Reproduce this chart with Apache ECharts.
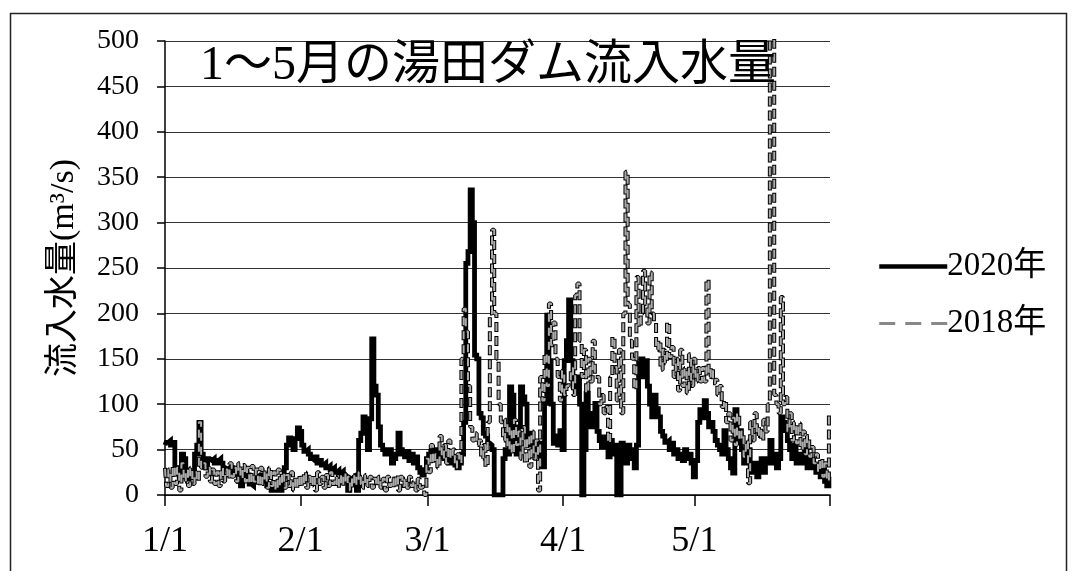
<!DOCTYPE html>
<html><head><meta charset="utf-8">
<script src="https://cdn.jsdelivr.net/npm/echarts@6/dist/echarts.min.js"></script>
<style>html,body{margin:0;padding:0;background:#fff;}#c{width:1077px;height:571px;}</style>
</head><body><div id="c"></div>
<script>
// half-day values (two per day, Jan 1 .. Jun 1)
const flow2020 = [
55,58, 60,55, 58,30, 25,20, 45,40, 22,18, 20,25, 45,55, 80,45, 35,30,
40,38, 40,35, 38,40, 35,30, 28,30, 25,30, 28,22, 15,10, 20,25, 22,12,
10,18, 20,15, 18,22, 15,10, 8,5, 5,8, 10,5, 20,30, 55,63, 60,50,
62,74, 70,55, 48,50, 45,40, 38,42, 35,38, 33,35, 30,32, 28,30, 25,27,
24,26, 22,20, 5,18, 20,22, 5,60, 68,86, 80,50, 84,172, 120,110, 75,55,
50,45, 45,50, 35,40, 45,68, 50,45, 42,48, 38,45, 35,42, 30,25, 22,28,
40,45, 48,42, 50,45, 42,48, 40,38, 35,42, 38,33, 30,35, 45,80, 255,268,
336,300, 154,150, 90,85, 68,65, 57,55, 50,0, 0,0, 0,40, 50,45, 119,110,
60,45, 75,119, 108,100, 60,68, 55,50, 45,57, 35,31, 101,198, 148,100, 57,65,
55,71, 50,148, 170,215, 148,120, 112,130, 100,0, 50,112, 90,75, 85,101, 70,60,
53,64, 55,42, 60,45, 55,0, 0,57, 50,35, 55,40, 50,30, 55,145, 150,130,
148,120, 100,86, 110,95, 86,70, 65,58, 60,50, 57,45, 50,40, 45,38, 50,40,
45,35, 20,38, 80,94, 85,104, 90,75, 80,70, 60,55, 50,45, 71,50, 40,30,
24,94, 60,71, 50,35, 40,50, 30,25, 35,20, 30,40, 25,35, 40,60, 35,45,
30,40, 86,80, 71,60, 50,40, 55,35, 45,40, 35,50, 30,35, 38,30, 25,30,
20,28, 15,10,
20
];
const flow2018 = [
30,10, 28,8, 32,12, 30,5, 35,15, 28,10, 30,12, 25,15, 80,30, 35,20,
30,15, 28,12, 25,10, 30,15, 28,18, 35,20, 30,15, 35,18, 33,15, 30,12,
32,15, 28,10, 30,12, 27,8, 30,10, 25,5, 28,10, 25,8, 22,10, 25,5,
20,8, 22,10, 25,8, 20,10, 22,5, 25,12, 20,8, 22,10, 25,12, 20,8,
22,10, 24,12, 20,5, 22,10, 25,12, 20,8, 22,10, 20,8, 18,10, 20,8,
18,5, 20,10, 18,8, 22,5, 20,10, 18,8, 20,10, 15,5, 18,8, 10,0,
40,25, 55,35, 45,30, 65,40, 55,35, 60,40, 50,30, 45,35, 150,205, 180,120,
75,60, 68,55, 60,40, 55,31, 80,200, 292,200, 150,100, 80,60, 83,50, 75,45,
83,55, 70,40, 75,35, 65,31, 70,40, 60,5, 130,104, 156,120, 211,165, 190,150,
130,104, 137,110, 120,125, 140,110, 220,233, 170,130, 160,112, 150,125, 170,130, 130,100,
110,90, 97,57, 130,174, 141,104, 160,90, 200,356, 210,170, 150,116, 240,185, 200,247,
210,189, 245,200, 190,160, 170,138, 160,145, 190,152, 163,130, 150,115, 160,120, 140,112,
155,120, 150,125, 140,125, 140,125, 237,130, 140,123, 127,110, 120,97, 104,80, 90,60,
85,55, 90,60, 70,42, 60,13, 80,60, 90,65, 75,60, 83,70, 100,620, 640,110,
100,90, 218,100, 108,70, 90,60, 80,57, 79,50, 70,45, 65,42, 53,35, 45,25,
40,20, 35,15,
90
];
const monthTicks = ['1/1','2/1','3/1','4/1','5/1','6/1'];
const monthLabels = ['1/1','2/1','3/1','4/1','5/1'];
const yTicks = [0,50,100,150,200,250,300,350,400,450,500];
const seriesNames = ['2020年','2018年'];
const titleText = '1～5月の湯田ダム流入水量';
const yName = '流入水量(m³/s)';

// category list: half-day steps from 1/1 to 6/1 (2020)
const categories = [];
for (let i = 0; i < flow2020.length; i++) {
  const dt = new Date(2020, 0, 1 + Math.floor(i / 2));
  const lab = (dt.getMonth() + 1) + '/' + dt.getDate();
  categories.push(i % 2 ? lab + ' 12時' : lab);
}

const SERIF = "'Liberation Serif','Noto Sans CJK JP',serif";
const chart = echarts.init(document.getElementById('c'), null, {renderer: 'canvas'});
chart.setOption({
  animation: false,
  backgroundColor: '#fff',
  textStyle: {fontFamily: SERIF, color: '#000'},
  title: {
    text: titleText, left: 195, top: 37,
    textStyle: {fontFamily: SERIF, fontSize: 48, fontWeight: 'normal', color: '#000'}
  },
  graphic: [{
    type: 'rect', silent: true, z: 100,
    shape: {x: 10.5, y: 13.5, width: 1056, height: 600},
    style: {fill: 'none', stroke: '#222', lineWidth: 1.5}
  }],
  legend: {
    orient: 'vertical', left: 872, top: 245, itemWidth: 68, itemHeight: 14, itemGap: 24,
    textStyle: {fontFamily: SERIF, fontSize: 33, color: '#000', padding: [0,0,0,-5]},
    data: [
      {name: seriesNames[0], itemStyle: {opacity: 0}, lineStyle: {color: '#000', width: 4.5, type: 'solid'}},
      {name: seriesNames[1], itemStyle: {opacity: 0}, lineStyle: {color: '#888', width: 3, type: [16, 10]}}
    ]
  },
  grid: {left: 165, right: 247, top: 41, bottom: 76},
  xAxis: {
    type: 'category', data: categories, boundaryGap: false,
    axisLine: {lineStyle: {color: '#000', width: 1.5}},
    axisTick: {show: true, length: 11, lineStyle: {color: '#000', width: 1.5},
      interval: (idx, val) => monthTicks.includes(val)},
    axisLabel: {
      interval: (idx, val) => monthLabels.includes(val),
      fontFamily: SERIF, fontSize: 36, color: '#000', margin: 29
    },
    splitLine: {show: false}
  },
  yAxis: {
    type: 'value', min: yTicks[0], max: yTicks[yTicks.length - 1], interval: 50,
    name: yName, nameLocation: 'middle', nameGap: 84,
    nameTextStyle: {fontFamily: SERIF, fontSize: 34, color: '#000'},
    axisLine: {show: true, lineStyle: {color: '#000', width: 1.5}},
    axisTick: {show: true, length: 8, lineStyle: {color: '#000', width: 1.5}},
    axisLabel: {fontFamily: SERIF, fontSize: 28, color: '#000', margin: 26},
    splitLine: {show: true, lineStyle: {color: '#333', width: 1.2}}
  },
  series: [
    {
      name: seriesNames[0], type: 'line', data: flow2020, step: 'middle',
      symbol: 'none', clip: true, z: 3,
      lineStyle: {color: '#000', width: 4.8, join: 'miter'}
    },
    {
      name: seriesNames[1], type: 'line', data: flow2018, step: 'middle',
      symbol: 'none', clip: true, z: 4,
      lineStyle: {color: '#000', width: 4, type: [10, 4], cap: 'butt'}
    },
    {
      name: seriesNames[1], type: 'line', data: flow2018, step: 'middle',
      symbol: 'none', clip: true, z: 5,
      lineStyle: {color: '#aaa', width: 2, type: [8, 6], dashOffset: -1, cap: 'butt'}
    }
  ]
});
</script></body></html>
